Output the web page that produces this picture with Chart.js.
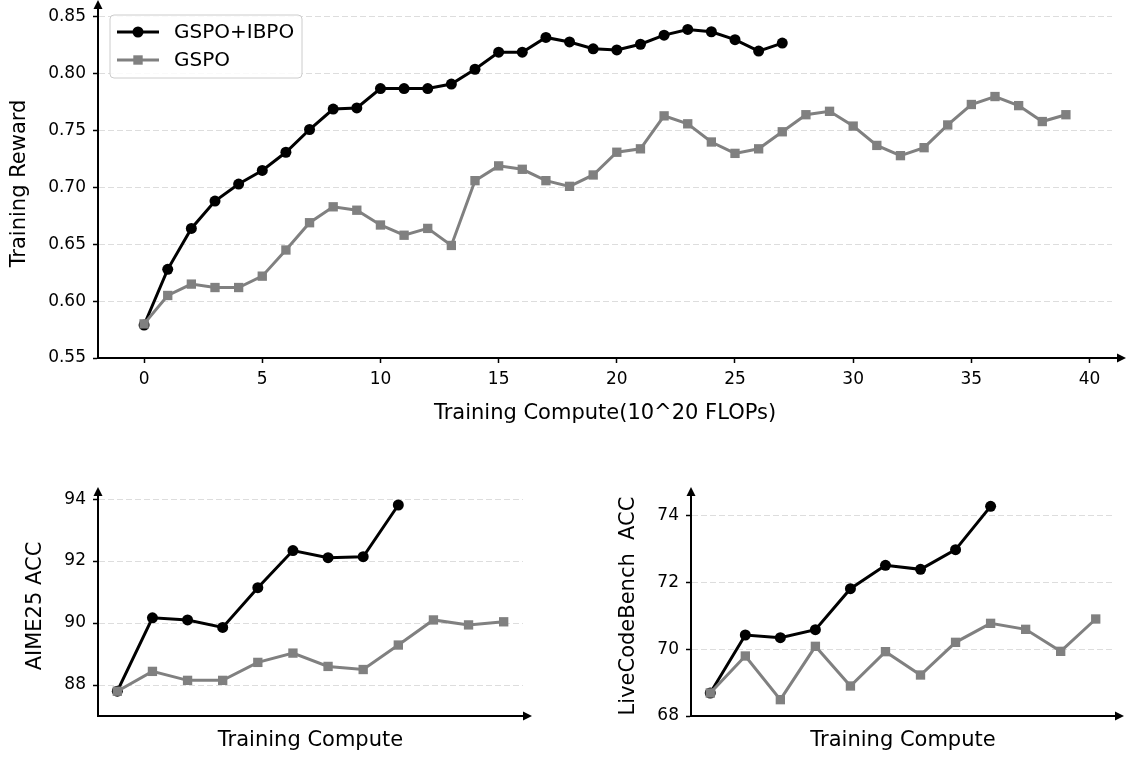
<!DOCTYPE html>
<html>
<head>
<meta charset="utf-8">
<script src="https://cdn.jsdelivr.net/npm/chart.js@4.4.1/dist/chart.umd.min.js"></script>
<style>
  html, body { margin: 0; padding: 0; background: #fff; }
  #wrap { position: relative; width: 1126px; height: 757px; overflow: hidden; }
  canvas { position: absolute; }
</style>
</head>
<body>
<div id="wrap">
  <canvas id="rewardChart" width="1126" height="440" style="left:0;top:0"></canvas>
  <canvas id="aimeChart" width="563" height="287" style="left:0;top:470px"></canvas>
  <canvas id="lcbChart" width="563" height="287" style="left:563px;top:470px"></canvas>
</div>
<script>
// training reward, one point per 10^20 FLOPs
const ibpoReward = [0.579, 0.628, 0.664, 0.688, 0.703, 0.715, 0.731, 0.751, 0.769, 0.770,
  0.787, 0.787, 0.787, 0.791, 0.804, 0.819, 0.819, 0.832, 0.828, 0.822,
  0.821, 0.826, 0.834, 0.839, 0.837, 0.830, 0.820, 0.827];
const gspoReward = [0.580, 0.605, 0.615, 0.612, 0.612, 0.622, 0.645, 0.669, 0.683, 0.680,
  0.667, 0.658, 0.664, 0.649, 0.706, 0.719, 0.716, 0.706, 0.701, 0.711,
  0.731, 0.734, 0.763, 0.756, 0.740, 0.730, 0.734, 0.749, 0.764, 0.767,
  0.754, 0.737, 0.728, 0.735, 0.755, 0.773, 0.780, 0.772, 0.758, 0.764];
const rewardTicksX = [0, 5, 10, 15, 20, 25, 30, 35, 40];
const rewardTicksY = [0.55, 0.60, 0.65, 0.70, 0.75, 0.80, 0.85];

// AIME25 accuracy per checkpoint
const aimeIbpo = [87.8, 90.17, 90.1, 89.86, 91.14, 92.34, 92.11, 92.14, 93.81];
const aimeGspo = [87.8, 88.44, 88.15, 88.15, 88.73, 89.03, 88.6, 88.5, 89.29, 90.1, 89.94, 90.04];
const aimeTicks = [88, 90, 92, 94];

// LiveCodeBench accuracy per checkpoint
const lcbIbpo = [68.69, 70.43, 70.35, 70.59, 71.82, 72.52, 72.4, 72.99, 74.29];
const lcbGspo = [68.69, 69.8, 68.49, 70.09, 68.9, 69.93, 69.23, 70.21, 70.78, 70.6, 69.94, 70.91];
const lcbTicks = [68, 70, 72, 74];

Chart.defaults.font.family = "'DejaVu Sans', sans-serif";
Chart.defaults.color = '#000';

const toPoints = arr => arr.map((v, i) => ({ x: i, y: v }));

function makeDatasets(black, grey) {
  return [
    {
      label: 'GSPO+IBPO', data: toPoints(black),
      borderColor: '#000', backgroundColor: '#000', borderWidth: 3,
      pointStyle: 'circle', pointRadius: 5.5, pointBorderWidth: 0,
      pointBackgroundColor: '#000', tension: 0, order: 1
    },
    {
      label: 'GSPO', data: toPoints(grey),
      borderColor: '#808080', backgroundColor: '#808080', borderWidth: 3,
      pointStyle: 'rect', pointRadius: 6.6, pointBorderWidth: 0,
      pointBackgroundColor: '#808080', tension: 0, order: 0
    }
  ];
}

// axis arrows at the end of the spines
const arrowAxes = {
  id: 'arrowAxes',
  afterDraw(chart, args, opts) {
    const { ctx, chartArea: a } = chart;
    const ext = opts.ext || 0;
    ctx.save();
    ctx.strokeStyle = '#000';
    ctx.fillStyle = '#000';
    ctx.lineWidth = 2;
    if (ext) {
      ctx.beginPath();
      ctx.moveTo(a.right, a.bottom);
      ctx.lineTo(a.right + ext, a.bottom);
      ctx.stroke();
    }
    ctx.beginPath();
    ctx.moveTo(a.right + ext, a.bottom - 4.5);
    ctx.lineTo(a.right + ext + 9, a.bottom);
    ctx.lineTo(a.right + ext, a.bottom + 4.5);
    ctx.closePath();
    ctx.fill();
    ctx.beginPath();
    ctx.moveTo(a.left - 4.5, a.top);
    ctx.lineTo(a.left, a.top - 9);
    ctx.lineTo(a.left + 4.5, a.top);
    ctx.closePath();
    ctx.fill();
    ctx.restore();
  }
};

// matplotlib-like legend box in the upper left
const boxLegend = {
  id: 'boxLegend',
  afterDraw(chart, args, opts) {
    if (!opts.show) return;
    const { ctx, chartArea: a } = chart;
    const x0 = a.left + 12, y0 = a.top + 6, w = 192, h = 63;
    ctx.save();
    ctx.beginPath();
    ctx.roundRect(x0, y0, w, h, 4);
    ctx.fillStyle = 'rgba(255,255,255,0.85)';
    ctx.fill();
    ctx.strokeStyle = '#cccccc';
    ctx.lineWidth = 1;
    ctx.stroke();
    chart.data.datasets.forEach((ds, i) => {
      const cy = y0 + 17 + i * 28;
      ctx.strokeStyle = ds.borderColor;
      ctx.lineWidth = ds.borderWidth;
      ctx.beginPath();
      ctx.moveTo(x0 + 7, cy);
      ctx.lineTo(x0 + 49, cy);
      ctx.stroke();
      ctx.fillStyle = ds.borderColor;
      if (ds.pointStyle === 'rect') {
        ctx.fillRect(x0 + 28 - 4.7, cy - 4.7, 9.4, 9.4);
      } else {
        ctx.beginPath();
        ctx.arc(x0 + 28, cy, 5.5, 0, Math.PI * 2);
        ctx.fill();
      }
      ctx.fillStyle = '#000';
      ctx.font = "20px 'DejaVu Sans'";
      ctx.textBaseline = 'middle';
      ctx.fillText(ds.label, x0 + 64, cy + 1);
    });
    ctx.restore();
  }
};

const gridColor = c => (c.tick && c.tick.value === c.scale.min) ? 'rgba(0,0,0,0)' : '#dddddd';

function yScale(min, max, ticks, width, title, titlePad, fmt) {
  return {
    type: 'linear', min: min, max: max,
    afterBuildTicks: s => { s.ticks = ticks.map(v => ({ value: v })); },
    afterFit: s => { s.width = width; s.paddingTop = 0; s.paddingBottom = 0; },
    ticks: { font: { size: 17 }, padding: 7, callback: fmt },
    grid: { color: gridColor, lineWidth: 1, tickLength: 5, tickColor: '#000', tickWidth: 1.5 },
    border: { color: '#000', width: 2, dash: [6, 3] },
    title: { display: true, text: title, font: { size: 21 }, padding: { top: titlePad, bottom: 0 } }
  };
}

const baseOptions = {
  responsive: false,
  animation: false,
  events: [],
  plugins: { legend: { display: false }, tooltip: { enabled: false } }
};

// top: training reward
new Chart(document.getElementById('rewardChart'), {
  type: 'line',
  data: { datasets: makeDatasets(ibpoReward, gspoReward) },
  options: {
    ...baseOptions,
    layout: { padding: { left: 0, top: 9, right: 14, bottom: 0 } },
    plugins: { ...baseOptions.plugins, boxLegend: { show: true }, arrowAxes: { ext: 5 } },
    scales: {
      x: {
        type: 'linear', min: -1.95, max: 40.95,
        afterBuildTicks: s => { s.ticks = rewardTicksX.map(v => ({ value: v })); },
        afterFit: s => { s.height = 82; s.paddingLeft = 0; s.paddingRight = 0; },
        ticks: { font: { size: 17 }, padding: 6, maxRotation: 0, autoSkip: false },
        grid: { drawOnChartArea: false, tickLength: 5, tickColor: '#000', tickWidth: 1.5 },
        border: { color: '#000', width: 2 },
        title: { display: true, text: 'Training Compute(10^20 FLOPs)', font: { size: 21 }, padding: { top: 0, bottom: 14 } }
      },
      y: yScale(0.55, 0.857, rewardTicksY, 98, 'Training Reward', 7, v => v.toFixed(2))
    }
  },
  plugins: [arrowAxes, boxLegend]
});

function smallChart(id, black, grey, ymin, ymax, ticks, yWidth, padRight, title, titlePad) {
  return new Chart(document.getElementById(id), {
    type: 'line',
    data: { datasets: makeDatasets(black, grey) },
    options: {
      ...baseOptions,
      layout: { padding: { left: 0, top: 26, right: padRight, bottom: 0 } },
      plugins: { ...baseOptions.plugins, arrowAxes: { ext: 0 } },
      scales: {
        x: {
          type: 'linear', min: -0.55, max: 11.55,
          afterFit: s => { s.height = 41; s.paddingLeft = 0; s.paddingRight = 0; },
          ticks: { display: false },
          grid: { display: false },
          border: { color: '#000', width: 2 },
          title: { display: true, text: 'Training Compute', font: { size: 21 }, padding: { top: 0, bottom: 4 } }
        },
        y: yScale(ymin, ymax, ticks, yWidth, title, titlePad, v => String(v))
      }
    },
    plugins: [arrowAxes]
  });
}

smallChart('aimeChart', aimeIbpo, aimeGspo, 87, 94.1, aimeTicks, 98, 40, 'AIME25 ACC', 23);
smallChart('lcbChart', lcbIbpo, lcbGspo, 68, 74.6, lcbTicks, 128, 11, 'LiveCodeBench  ACC', 53);
</script>
</body>
</html>
